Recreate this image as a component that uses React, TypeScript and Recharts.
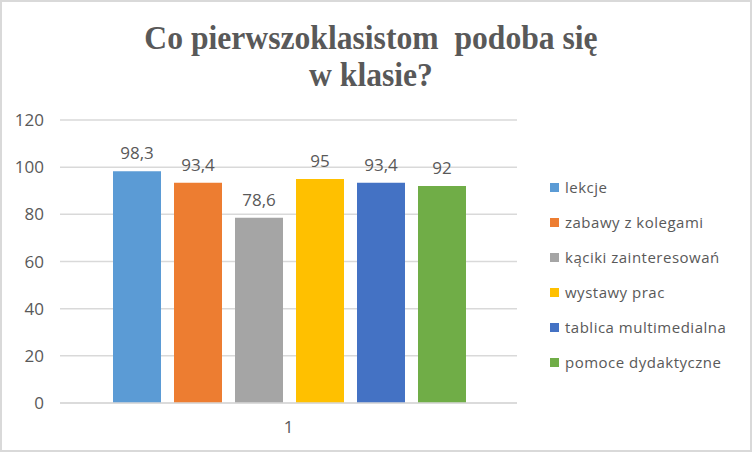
import React from "react";
import { BarChart, Bar, XAxis, YAxis, CartesianGrid, LabelList } from "recharts";

const categories = ["1"];
const seriesNames = [
  "lekcje",
  "zabawy z kolegami",
  "kąciki zainteresowań",
  "wystawy prac",
  "tablica multimedialna",
  "pomoce dydaktyczne",
];
const seriesValues = [98.3, 93.4, 78.6, 95, 93.4, 92];
const seriesColors = ["#5B9BD5", "#ED7D31", "#A5A5A5", "#FFC000", "#4472C4", "#70AD47"];
const yTicks = [0, 20, 40, 60, 80, 100, 120];
const titleLines = ["Co pierwszoklasistom  podoba się", "w klasie?"];

const data = categories.map((c) => {
  const row: Record<string, string | number> = { name: c };
  seriesNames.forEach((s, i) => {
    row["s" + i] = seriesValues[i];
  });
  return row;
});

const FONT = "'Open Sans', sans-serif";
const TEXT = "#595959";

const fmt = (v: any) => String(v).replace(".", ",");

export default function App() {
  return (
    <div
      style={{
        position: "absolute",
        left: 0,
        top: 0,
        width: 752,
        height: 452,
        background: "#fff",
        boxSizing: "border-box",
        border: "2px solid #D9D9D9",
        overflow: "hidden",
      }}
    >
      <div
        style={{
          position: "absolute",
          left: -2,
          top: 17,
          width: 742,
          textAlign: "center",
          fontFamily: "'Liberation Serif', 'Times New Roman', serif",
          fontWeight: "bold",
          fontSize: 34,
          lineHeight: "37px",
          color: TEXT,
          whiteSpace: "pre",
          transform: "scaleX(0.93)",
          transformOrigin: "371px 0",
        }}
      >
        {titleLines.map((l) => (
          <div key={l}>{l}</div>
        ))}
      </div>
      <div style={{ position: "absolute", left: -2, top: -2 }}>
        <BarChart
          width={752}
          height={452}
          data={data}
          margin={{ top: 120, right: 235, bottom: 19, left: 0 }}
          barCategoryGap={53}
          barGap={13}
        >
          <CartesianGrid vertical={false} stroke="#D9D9D9" strokeWidth={1.5} />
          <XAxis
            dataKey="name"
            axisLine={{ stroke: "#D9D9D9", strokeWidth: 1.5 }}
            tickLine={false}
            tickSize={0}
            tick={{ fontFamily: FONT, fontSize: 17, fill: TEXT }}
            tickMargin={18}
            height={30}
          />
          <YAxis
            width={60}
            domain={[0, 120]}
            ticks={yTicks}
            axisLine={false}
            tickLine={false}
            tickSize={0}
            tickMargin={16}
            tick={{ fontFamily: FONT, fontSize: 17, fill: TEXT }}
          />
          {seriesNames.map((s, i) => (
            <Bar key={s} dataKey={"s" + i} name={s} fill={seriesColors[i]} isAnimationActive={false}>
              <LabelList
                dataKey={"s" + i}
                position="top"
                offset={12}
                formatter={fmt}
                style={{ fontFamily: FONT, fontSize: 17, fill: TEXT }}
              />
            </Bar>
          ))}
        </BarChart>
      </div>
      <div
        style={{
          position: "absolute",
          left: 548,
          top: 167.5,
          fontFamily: FONT,
          fontSize: 15,
          letterSpacing: 0.5,
          color: TEXT,
        }}
      >
        {seriesNames.map((s, i) => (
          <div key={s} style={{ display: "flex", alignItems: "center", height: 35, whiteSpace: "nowrap" }}>
            <span
              style={{
                display: "inline-block",
                width: 9,
                height: 9,
                background: seriesColors[i],
                marginRight: 6,
              }}
            />
            <span>{s}</span>
          </div>
        ))}
      </div>
    </div>
  );
}
